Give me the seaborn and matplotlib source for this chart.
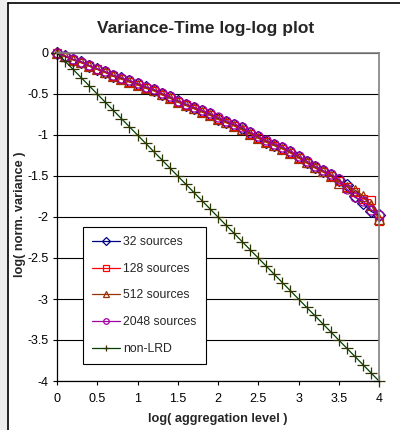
import pandas as pd
import seaborn as sns
import matplotlib.pyplot as plt
from matplotlib.lines import Line2D
from matplotlib.patches import Rectangle
from matplotlib.ticker import FuncFormatter

agg_level = [0.0, 0.1, 0.2, 0.3, 0.4, 0.5, 0.6, 0.7, 0.8, 0.9,
             1.0, 1.1, 1.2, 1.3, 1.4, 1.5, 1.6, 1.7, 1.8, 1.9,
             2.0, 2.1, 2.2, 2.3, 2.4, 2.5, 2.6, 2.7, 2.8, 2.9,
             3.0, 3.1, 3.2, 3.3, 3.4, 3.5, 3.6, 3.7, 3.8, 3.9, 4.0]

src32 = [0, -0.04, -0.08, -0.11, -0.155, -0.195, -0.23, -0.28, -0.31, -0.345,
         -0.38, -0.42, -0.45, -0.50, -0.54, -0.59, -0.63, -0.67, -0.71, -0.75,
         -0.80, -0.84, -0.88, -0.92, -0.98, -1.03, -1.08, -1.12, -1.16, -1.21,
         -1.27, -1.33, -1.39, -1.44, -1.49, -1.55, -1.61, -1.75, -1.83, -1.93, -1.98]

src128 = [0, -0.045, -0.085, -0.12, -0.16, -0.20, -0.24, -0.285, -0.32, -0.355,
          -0.39, -0.43, -0.46, -0.51, -0.55, -0.60, -0.64, -0.68, -0.72, -0.76,
          -0.81, -0.85, -0.89, -0.94, -0.99, -1.04, -1.09, -1.13, -1.17, -1.22,
          -1.28, -1.34, -1.40, -1.45, -1.50, -1.56, -1.63, -1.70, -1.78, -1.79, -2.05]

src512 = [0, -0.04, -0.085, -0.115, -0.16, -0.20, -0.235, -0.285, -0.315, -0.35,
          -0.385, -0.425, -0.455, -0.505, -0.545, -0.595, -0.635, -0.675, -0.715, -0.755,
          -0.805, -0.845, -0.885, -0.93, -0.985, -1.035, -1.085, -1.125, -1.165, -1.215,
          -1.275, -1.335, -1.395, -1.445, -1.50, -1.58, -1.63, -1.67, -1.74, -1.85, -2.02]

src2048 = [0, -0.035, -0.075, -0.105, -0.15, -0.19, -0.225, -0.27, -0.30, -0.335,
           -0.37, -0.41, -0.44, -0.49, -0.53, -0.58, -0.62, -0.66, -0.70, -0.735,
           -0.785, -0.825, -0.865, -0.905, -0.965, -1.015, -1.065, -1.105, -1.145, -1.195,
           -1.255, -1.315, -1.375, -1.43, -1.48, -1.54, -1.66, -1.76, -1.80, -1.91, -1.97]

non_lrd = [0.0, -0.1, -0.2, -0.3, -0.4, -0.5, -0.6, -0.7, -0.8, -0.9,
           -1.0, -1.1, -1.2, -1.3, -1.4, -1.5, -1.6, -1.7, -1.8, -1.9,
           -2.0, -2.1, -2.2, -2.3, -2.4, -2.5, -2.6, -2.7, -2.8, -2.9,
           -3.0, -3.1, -3.2, -3.3, -3.4, -3.5, -3.6, -3.7, -3.8, -3.9, -4.0]

series_names = ["32 sources", "128 sources", "512 sources", "2048 sources", "non-LRD"]
series_values = [src32, src128, src512, src2048, non_lrd]
line_colors = ["#000080", "#FF0000", "#993300", "#A000A0", "#004000"]
edge_colors = ["#000080", "#FF0000", "#993300", "#A000A0", "#333300"]
markers = ["D", "s", "^", "o", "+"]
marker_sizes = [6, 6, 6.5, 6.5, 9]

x_ticks = [0, 0.5, 1, 1.5, 2, 2.5, 3, 3.5, 4]
y_ticks = [0, -0.5, -1, -1.5, -2, -2.5, -3, -3.5, -4]

sns.set_style("white")
plt.rcParams['font.family'] = ['Liberation Sans', 'DejaVu Sans']
plt.rcParams['axes.unicode_minus'] = False

fig = plt.figure(figsize=(4, 4.3), dpi=100)
ax = fig.add_axes([57 / 400, 49 / 430, 322 / 400, 328 / 430])

for i in range(len(series_names)):
    df = pd.DataFrame({"x": agg_level, "y": series_values[i]})
    sns.lineplot(data=df, x="x", y="y", ax=ax, color=line_colors[i], label=series_names[i],
                 marker=markers[i], markersize=marker_sizes[i], mfc="none",
                 mec=edge_colors[i], mew=0.9, linewidth=0.9, errorbar=None, clip_on=False)

ax.set_xlim(0, 4)
ax.set_ylim(-4, 0)
ax.set_xticks(x_ticks)
ax.set_yticks(y_ticks)
fmt = FuncFormatter(lambda v, p: "%g" % v)
ax.xaxis.set_major_formatter(fmt)
ax.yaxis.set_major_formatter(fmt)
ax.tick_params(axis="both", direction="out", length=3, width=0.8, labelsize=9,
               colors="black", left=True, bottom=True)
ax.tick_params(axis="x", pad=6)
ax.tick_params(axis="y", pad=3)
ax.set_xlabel("")
ax.set_ylabel("")
ax.yaxis.grid(True, color="black", linewidth=0.8)
ax.xaxis.grid(False)
ax.set_axisbelow(True)
for side in ["left", "bottom"]:
    ax.spines[side].set_color("black")
    ax.spines[side].set_linewidth(0.9)
for side in ["top", "right"]:
    ax.spines[side].set_color("#808080")
    ax.spines[side].set_linewidth(1.2)

leg = ax.legend(loc="upper left", bbox_to_anchor=(83 / 400, 1 - 227 / 430),
                bbox_transform=fig.transFigure, fontsize=8.8, frameon=True, fancybox=False,
                framealpha=1, edgecolor="black", borderpad=0.75, labelspacing=1.2,
                handlelength=2.3, handletextpad=0.25, borderaxespad=0, numpoints=1)
leg.get_frame().set_linewidth(0.8)
for h in leg.legend_handles:
    h.set_markersize(4)

fig.text(206 / 400, 1 - 28 / 430, "Variance-Time log-log plot", ha="center", va="center",
         fontsize=12.5, fontweight="bold")
fig.text(218 / 400, 1 - 419 / 430, "log( aggregation level )", ha="center", va="center",
         fontsize=9.2, fontweight="bold")
fig.text(20 / 400, 1 - 214 / 430, "log( norm. variance )", ha="center", va="center",
         rotation=90, fontsize=9.2, fontweight="bold")

# sheet background strip and chart frame
fig.patches.append(Rectangle((0, 0), 7 / 400, 1, transform=fig.transFigure,
                             facecolor="#EEEEEE", edgecolor="none"))
fig.lines.append(Line2D([8 / 400, 8 / 400], [0, 1 - 3 / 430], transform=fig.transFigure,
                        color="black", linewidth=1.2))
fig.lines.append(Line2D([8 / 400, 1], [1 - 3 / 430, 1 - 3 / 430], transform=fig.transFigure,
                        color="black", linewidth=1.2))

plt.savefig("out.png", dpi=100)
